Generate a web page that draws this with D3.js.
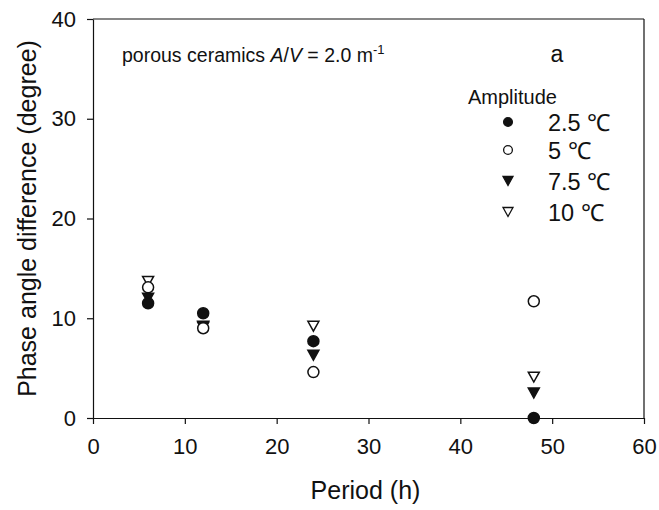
<!DOCTYPE html>
<html>
<head>
<meta charset="utf-8">
<script src="https://cdn.jsdelivr.net/npm/d3@7"></script>
<style>
  html, body { margin: 0; padding: 0; background: #fff; }
  svg { display: block; font-family: "Liberation Sans", Arial, sans-serif; }
</style>
</head>
<body>
<svg id="chart" width="659" height="510"></svg>
<script>
// Periods (h) and phase angle difference (degree) for each amplitude
const periods = [6, 12, 24, 48];
const amp25 = [11.5, 10.5, 7.7, 0.0];
const amp5 = [13.1, 9.0, 4.6, 11.7];
const amp75 = [12.0, 9.1, 6.3, 2.5];
const amp10 = [13.7, 9.2, 9.2, 4.1];

const seriesLabels = ["2.5 ℃", "5 ℃", "7.5 ℃", "10 ℃"];
const xTicks = [0, 10, 20, 30, 40, 50, 60];
const yTicks = [0, 10, 20, 30, 40];

const series = [
  { label: seriesLabels[0], values: amp25, shape: "circle", filled: true },
  { label: seriesLabels[1], values: amp5, shape: "circle", filled: false },
  { label: seriesLabels[2], values: amp75, shape: "triangle", filled: true },
  { label: seriesLabels[3], values: amp10, shape: "triangle", filled: false }
];

const svg = d3.select("#chart");
const m = { left: 93, right: 15, top: 19, bottom: 92 };
const W = 659, H = 510;
const x = d3.scaleLinear().domain([0, 60]).range([m.left, W - m.right]);
const y = d3.scaleLinear().domain([0, 40]).range([H - m.bottom, m.top]);

// Axes
const xAxis = svg.append("g")
  .attr("transform", `translate(0,${y(0)})`)
  .call(d3.axisBottom(x).tickValues(xTicks).tickSize(6).tickPadding(14).tickSizeOuter(0));
const yAxis = svg.append("g")
  .attr("transform", `translate(${x(0)},0)`)
  .call(d3.axisLeft(y).tickValues(yTicks).tickSize(6).tickPadding(11).tickSizeOuter(0));
[xAxis, yAxis].forEach(g => {
  g.selectAll("path, line").attr("stroke", "#111").attr("stroke-width", 1.2);
  g.selectAll("text").attr("font-size", 22).attr("fill", "#111")
    .attr("font-family", "'Liberation Sans', Arial, sans-serif");
});

// Top and right frame lines
svg.append("line").attr("x1", x(0)).attr("x2", x(60)).attr("y1", y(40)).attr("y2", y(40))
  .attr("stroke", "#111").attr("stroke-width", 1.2);
svg.append("line").attr("x1", x(60)).attr("x2", x(60)).attr("y1", y(40)).attr("y2", y(0))
  .attr("stroke", "#111").attr("stroke-width", 1.2);

// Marker symbols
const circleSym = d3.symbol().type(d3.symbolCircle).size(95);
function triPath(s) {
  const h = s * 0.9;
  return `M${-s / 2},${-h / 2}L${s / 2},${-h / 2}L0,${h / 2}Z`;
}
function drawMarker(g, sr) {
  if (sr.shape === "circle") {
    g.append("path").attr("d", circleSym())
      .attr("fill", sr.filled ? "#111" : "#fff")
      .attr("stroke", "#111").attr("stroke-width", 1.5);
  } else {
    g.append("path").attr("d", triPath(11))
      .attr("fill", sr.filled ? "#111" : "#fff")
      .attr("stroke", "#111").attr("stroke-width", 1.5).attr("stroke-linejoin", "miter");
  }
}

// Points: draw in reverse order so the filled circle sits on top
[...series].reverse().forEach(sr => {
  periods.forEach((p, i) => {
    const g = svg.append("g").attr("transform", `translate(${x(p)},${y(sr.values[i])})`);
    drawMarker(g, sr);
  });
});

// Annotation text
const ann = svg.append("text").attr("x", 122).attr("y", 62)
  .attr("font-size", 19.5).attr("fill", "#111");
ann.append("tspan").text("porous ceramics ");
ann.append("tspan").attr("font-style", "italic").text("A");
ann.append("tspan").text("/");
ann.append("tspan").attr("font-style", "italic").text("V");
ann.append("tspan").text(" = 2.0 m");
ann.append("tspan").attr("dy", -8).attr("font-size", 13).text("-1");

svg.append("text").attr("x", 557).attr("y", 62).attr("text-anchor", "middle")
  .attr("font-size", 23).attr("fill", "#111").text("a");

// Legend
svg.append("text").attr("x", 468).attr("y", 104)
  .attr("font-size", 20).attr("fill", "#111").text("Amplitude");
const legendY = [122, 150, 181, 212];
series.forEach((sr, i) => {
  const g = svg.append("g").attr("transform", `translate(508,${legendY[i]})`);
  if (sr.shape === "circle") {
    g.append("path").attr("d", d3.symbol().type(d3.symbolCircle).size(60)())
      .attr("fill", sr.filled ? "#111" : "#fff").attr("stroke", "#111").attr("stroke-width", 1.3);
  } else {
    g.append("path").attr("d", triPath(10))
      .attr("fill", sr.filled ? "#111" : "#fff").attr("stroke", "#111").attr("stroke-width", 1.3);
  }
  svg.append("text").attr("x", 548).attr("y", legendY[i] + 9)
    .attr("font-size", 23.5).attr("fill", "#111").text(sr.label);
});

// Axis titles
svg.append("text").attr("x", x(30) - 3).attr("y", 499).attr("text-anchor", "middle")
  .attr("font-size", 25).attr("fill", "#111").text("Period (h)");
svg.append("text").attr("transform", `translate(36,${y(20)}) rotate(-90)`)
  .attr("text-anchor", "middle").attr("font-size", 25).attr("fill", "#111")
  .text("Phase angle difference (degree)");
</script>
</body>
</html>
